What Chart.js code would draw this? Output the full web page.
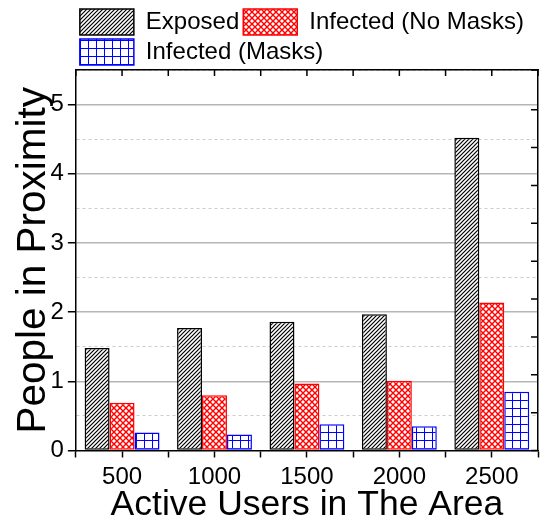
<!DOCTYPE html>
<html>
<head>
<meta charset="utf-8">
<script src="https://cdn.jsdelivr.net/npm/chart.js@4.4.1/dist/chart.umd.min.js"></script>
<style>
  html, body { margin: 0; padding: 0; background: #fff; }
  #wrap { width: 546px; height: 519px; }
</style>
</head>
<body>
<div id="wrap"><canvas id="myChart" width="546" height="519"></canvas></div>
<script>
// data
const categories = [500, 1000, 1500, 2000, 2500];
const exposed = [1.48, 1.77, 1.86, 1.97, 4.52];
const infectedNoMasks = [0.69, 0.80, 0.97, 1.01, 2.14];
const infectedMasks = [0.26, 0.23, 0.38, 0.35, 0.85];
const yTicks = [0, 1, 2, 3, 4, 5];

const FONT = '"Liberation Sans", Arial, sans-serif';

// hatch fills
function makePattern(kind) {
    const c = document.createElement('canvas');
    const ctx = c.getContext('2d');
    let s;
    if (kind === 'diag') {
        s = 4;
        c.width = c.height = s;
        ctx.fillStyle = '#fff';
        ctx.fillRect(0, 0, s, s);
        ctx.strokeStyle = '#000';
        ctx.lineWidth = 1.2;
        ctx.beginPath();
        ctx.moveTo(0, s); ctx.lineTo(s, 0);
        ctx.moveTo(-1, 1); ctx.lineTo(1, -1);
        ctx.moveTo(s - 1, s + 1); ctx.lineTo(s + 1, s - 1);
        ctx.stroke();
    } else if (kind === 'cross') {
        s = 6;
        c.width = c.height = s;
        ctx.fillStyle = '#fff';
        ctx.fillRect(0, 0, s, s);
        ctx.strokeStyle = '#ff0000';
        ctx.lineWidth = 1.4;
        ctx.beginPath();
        ctx.moveTo(0, 0); ctx.lineTo(s, s);
        ctx.moveTo(0, s); ctx.lineTo(s, 0);
        ctx.stroke();
    } else {
        s = 8;
        c.width = c.height = s;
        ctx.fillStyle = '#fff';
        ctx.fillRect(0, 0, s, s);
        ctx.strokeStyle = '#0000ff';
        ctx.lineWidth = 1;
        ctx.beginPath();
        ctx.moveTo(0, 0.5); ctx.lineTo(s, 0.5);
        ctx.moveTo(0.5, 0); ctx.lineTo(0.5, s);
        ctx.stroke();
    }
    return ctx.createPattern(c, 'repeat');
}

// small inward ticks on the top and right frame
const innerTicks = {
    id: 'innerTicks',
    afterDraw(chart) {
        const ctx = chart.ctx;
        const area = chart.chartArea;
        const top = chart.scales.xTop;
        const right = chart.scales.yRight;
        ctx.save();
        ctx.strokeStyle = '#000';
        ctx.lineWidth = 1.5;
        ctx.beginPath();
        top.ticks.forEach(t => {
            const x = top.getPixelForValue(t.value);
            ctx.moveTo(x, area.top);
            ctx.lineTo(x, area.top + 6);
        });
        right.ticks.forEach(t => {
            const y = right.getPixelForValue(t.value);
            ctx.moveTo(area.right, y);
            ctx.lineTo(area.right - 7, y);
        });
        ctx.stroke();
        ctx.restore();
    }
};

// legend adds 10px below itself, the figure sits the frame closer
const tightLegend = {
    id: 'tightLegend',
    beforeLayout(chart) {
        const lg = chart.legend;
        if (lg && !lg._tight) {
            const fit = lg.fit;
            lg.fit = function () {
                fit.call(this);
                this.height -= 5;
            };
            lg._tight = true;
        }
    }
};

function toPoints(values) {
    return values.map((v, i) => ({ x: categories[i], y: v }));
}

const ctx = document.getElementById('myChart').getContext('2d');
const myChart = new Chart(ctx, {
    type: 'bar',
    data: {
        datasets: [
            {
                label: 'Exposed',
                data: toPoints(exposed),
                backgroundColor: makePattern('diag'),
                borderColor: '#000',
                borderWidth: 1.5,
                borderSkipped: false
            },
            {
                label: 'Infected (No Masks)',
                data: toPoints(infectedNoMasks),
                backgroundColor: makePattern('cross'),
                borderColor: '#ff0000',
                borderWidth: 1.5,
                borderSkipped: false
            },
            {
                label: 'Infected (Masks)',
                data: toPoints(infectedMasks),
                backgroundColor: makePattern('grid'),
                borderColor: '#0000ff',
                borderWidth: 1.5,
                borderSkipped: false
            }
        ]
    },
    options: {
        responsive: false,
        animation: false,
        // ruler is the 250 tick step, so 1.62 of it is ~0.81 of a category
        categoryPercentage: 1.62,
        barPercentage: 1.0,
        layout: { padding: { left: 2, right: 5, top: 5, bottom: 0 } },
        plugins: {
            tooltip: { enabled: false },
            legend: {
                position: 'top',
                align: 'start',
                fullSize: false,
                labels: {
                    boxWidth: 54,
                    boxHeight: 26,
                    padding: 4,
                    color: '#000',
                    font: { family: FONT, size: 24 }
                }
            }
        },
        scales: {
            x: {
                type: 'linear',
                position: 'bottom',
                offset: false,
                min: 250,
                max: 2750,
                ticks: {
                    stepSize: 250,
                    autoSkip: false,
                    maxRotation: 0,
                    padding: 8,
                    color: '#000',
                    font: { family: FONT, size: 24, lineHeight: 1 },
                    callback: v => (v % 500 === 0 ? String(v) : '')
                },
                grid: { offset: false, drawOnChartArea: false, tickLength: 7, tickColor: '#000', tickWidth: 1.5 },
                border: { color: '#000', width: 1.5 },
                title: {
                    display: true,
                    text: 'Active Users in The Area',
                    color: '#000',
                    font: { family: FONT, size: 35.5, lineHeight: 1 },
                    padding: { top: -10, bottom: -4 }
                }
            },
            xTop: {
                type: 'linear',
                position: 'top',
                offset: false,
                min: 250,
                max: 2750,
                ticks: { display: false, stepSize: 250 },
                grid: { offset: false, drawOnChartArea: false, drawTicks: false },
                border: { color: '#000', width: 1.5 }
            },
            y: {
                type: 'linear',
                position: 'left',
                min: 0,
                max: 5.5,
                ticks: {
                    stepSize: 0.5,
                    autoSkip: false,
                    color: '#000',
                    padding: 4,
                    font: { family: FONT, size: 24 },
                    callback: v => (yTicks.includes(v) ? String(v) : '')
                },
                grid: {
                    color: c => {
                        if (!c.tick || c.tick.value === 0) return 'rgba(0,0,0,0)';
                        return c.tick.value % 1 === 0 ? '#b5b5b5' : '#cccccc';
                    },
                    lineWidth: c => (c.tick && c.tick.value % 1 === 0 ? 1.5 : 1),
                    tickColor: c => (c.tick && c.tick.value % 1 === 0 ? '#000' : 'rgba(0,0,0,0)'),
                    tickLength: 8,
                    tickWidth: 1.5
                },
                border: {
                    color: '#000',
                    width: 1.5,
                    dash: c => (c.tick && c.tick.value % 1 !== 0 ? [3, 3] : [])
                },
                title: {
                    display: true,
                    text: 'People in Proximity',
                    color: '#000',
                    font: { family: FONT, size: 40.5, lineHeight: 1 },
                    padding: { top: 12, bottom: -8 }
                }
            },
            yRight: {
                type: 'linear',
                position: 'right',
                min: 0,
                max: 10.05,
                ticks: { display: false, stepSize: 1 },
                grid: { drawOnChartArea: false, drawTicks: false },
                border: { color: '#000', width: 1.5 }
            }
        }
    },
    plugins: [innerTicks, tightLegend]
});
</script>
</body>
</html>
